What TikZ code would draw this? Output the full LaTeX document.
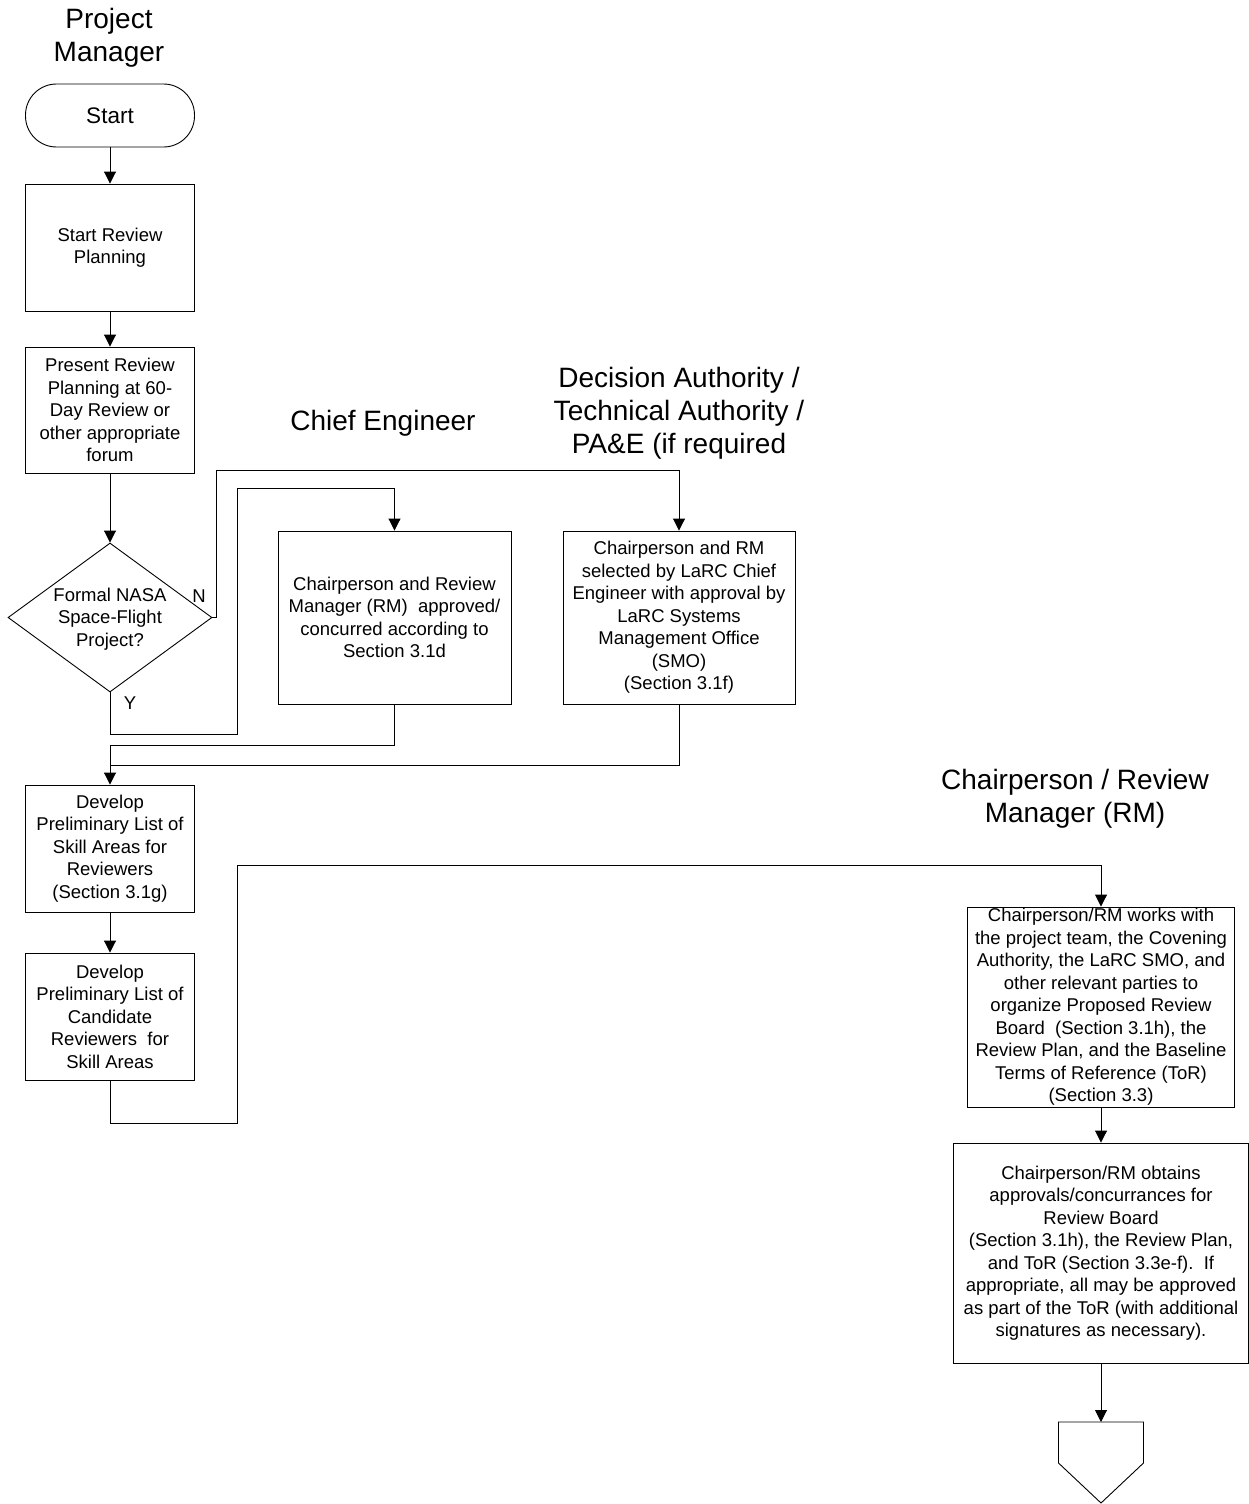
\documentclass[tikz,border=0pt]{standalone}
\usepackage{fontspec}
\setmainfont{Liberation Sans}
\usetikzlibrary{arrows.meta,shapes.geometric}
\begin{document}
\begin{tikzpicture}[x=1pt,y=-1pt,
  box/.style={draw, line width=0.9pt, align=center, inner sep=0pt,
    font=\fontsize{18.5}{22.5}\selectfont},
  txt/.style={align=center, inner sep=0pt, font=\fontsize{18.5}{22.5}\selectfont},
  hdr/.style={align=center, inner sep=0pt, font=\fontsize{28}{33}\selectfont},
  flow/.style={line width=0.9pt, -{Triangle[length=12pt,width=12pt]}},
  plain/.style={line width=0.9pt}]
\useasboundingbox (0,0) rectangle (1249,1504);

% headers
\node[hdr] (hpm) at (109,38) {Project\\Manager};
\node[hdr] (hce) at (383,423) {Chief Engineer};
\node[hdr] (hda) at (679,413) {Decision Authority /\\Technical Authority /\\PA\&E (if required};
\node[hdr] (hcr) at (1075,799) {Chairperson / Review\\Manager (RM)};

% left column
\node[box, rounded corners=31pt, minimum width=169pt, minimum height=63pt,
  font=\fontsize{22.5}{27}\selectfont] (start) at (110,115.5) {Start};
\node[box, minimum width=169pt, minimum height=127pt] (srp) at (110,247.5) {Start Review\\Planning};
\node[box, minimum width=169pt, minimum height=126pt] (prp) at (110,410) {Present Review\\Planning at 60-\\Day Review or\\other appropriate\\forum};
\node[draw, line width=0.9pt, diamond, minimum width=204pt, minimum height=149pt, inner sep=0pt] (dec) at (110,617.5) {};
\node[txt] (dect) at (110,619) {Formal NASA\\Space-Flight\\Project?};
\node[txt] (nlab) at (199,596) {N};
\node[txt] (ylab) at (130,703) {Y};

\node[box, minimum width=233pt, minimum height=173pt] (ce) at (394.5,617.5) {Chairperson and Review\\Manager (RM)\ \ approved/\\concurred according to\\Section 3.1d};
\node[box, minimum width=232pt, minimum height=173pt] (da) at (679,617.5) {Chairperson and RM\\selected by LaRC Chief\\Engineer with approval by\\LaRC Systems\\Management Office\\(SMO)\\(Section 3.1f)};

\node[box, minimum width=169pt, minimum height=127pt] (dev1) at (110,848.5) {Develop\\Preliminary List of\\Skill Areas for\\Reviewers\\(Section 3.1g)};
\node[box, minimum width=169pt, minimum height=127pt] (dev2) at (110,1016.5) {Develop\\Preliminary List of\\Candidate\\Reviewers\ \ for\\Skill Areas};

% right column
\node[box, minimum width=267pt, minimum height=200pt] (cr1) at (1101,1007) {Chairperson/RM works with\\the project team, the Covening\\Authority, the LaRC SMO, and\\other relevant parties to\\organize Proposed Review\\Board\ \ (Section 3.1h), the\\Review Plan, and the Baseline\\Terms of Reference (ToR)\\(Section 3.3)};
\node[box, minimum width=295pt, minimum height=220pt] (cr2) at (1101,1253) {Chairperson/RM obtains\\approvals/concurrances for\\Review Board\\(Section 3.1h), the Review Plan,\\and ToR (Section 3.3e-f).\ \ If\\appropriate, all may be approved\\as part of the ToR (with additional\\signatures as necessary).};

% off-page connector
\coordinate (offtop) at (1101,1422);
\draw[plain] (1058.5,1422) -- (1143.5,1422) -- (1143.5,1463) -- (1101,1503) -- (1058.5,1463) -- cycle;

% connectors
\draw[flow] (start) -- (srp);
\draw[flow] (srp) -- (prp);
\draw[flow] (prp) -- (dec);
\draw[flow] (dec.east) -- (216,617.5) -- (216,470) -| (da.north);
\draw[flow] (dec.south) -- (110,734) -- (237,734) -- (237,488) -| (ce.north);
\draw[flow] (ce.south) |- (110,745) -- (dev1.north);
\draw[plain] (da.south) |- (110,765);
\draw[flow] (dev1) -- (dev2);
\draw[flow] (dev2.south) -- (110,1123) -- (237,1123) -- (237,865) -| (cr1.north);
\draw[flow] (cr1) -- (cr2);
\draw[flow] (cr2.south) -- (offtop);
\end{tikzpicture}
\end{document}
